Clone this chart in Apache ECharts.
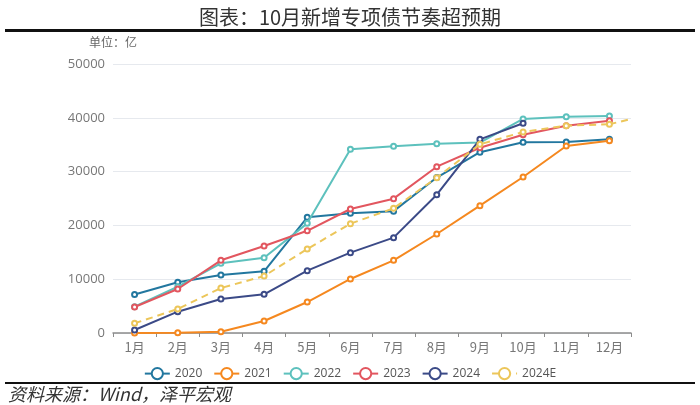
<!DOCTYPE html>
<html><head><meta charset="utf-8">
<script src="https://cdn.jsdelivr.net/npm/echarts@6/dist/echarts.min.js"></script>
<style>html,body{margin:0;padding:0;background:#fff}#c{width:700px;height:405px}</style>
</head><body><div id="c"></div>
<script>
const months = ['1月','2月','3月','4月','5月','6月','7月','8月','9月','10月','11月','12月'];
const s2020 = [7150, 9420, 10780, 11470, 21500, 22250, 22650, 28900, 33600, 35450, 35500, 36000];
const s2021 = [0, 30, 240, 2230, 5760, 10040, 13510, 18400, 23670, 29000, 34760, 35750];
const s2022 = [4900, 8600, 12950, 14000, 20380, 34140, 34700, 35190, 35400, 39780, 40210, 40330];
const s2023 = [4830, 8180, 13510, 16170, 19000, 23050, 24970, 30910, 34440, 36860, 38540, 39470];
const s2024 = [560, 3960, 6320, 7190, 11580, 14930, 17720, 25710, 36000, 38980];
const s2024E = [1800, 4460, 8360, 10590, 15610, 20320, 23170, 28870, 35070, 37360, 38540, 38790];
const s2024EExt = [[11.5, 38790], [12, 39780]];

const names = ['2020','2021','2022','2023','2024','2024E'];
const colors = ['#22779f','#f5881f','#5dc1bd','#e2565f','#3b4a87','#ecc65a'];
const datas = [s2020, s2021, s2022, s2023, s2024, s2024E];

const chart = echarts.init(document.getElementById('c'), null, {renderer:'canvas'});
const series = names.map((n,i)=>({
  name:n, type:'line', data:datas[i], xAxisIndex:0, yAxisIndex:0,
  symbol:'emptyCircle', symbolSize:5, color:colors[i],
  lineStyle:{width:2, color:colors[i], type: n==='2024E'?[7,5]:'solid'},
  itemStyle:{color:colors[i], borderWidth:1.5}, z: 2+i
}));
series.push({
  name:'ext', type:'line', data:s2024EExt, xAxisIndex:1, yAxisIndex:0,
  symbol:'none', lineStyle:{width:2, color:colors[5], type:[7,5]}, z:7
});

chart.setOption({
  animation:false,
  backgroundColor:'#fff',
  title:{text:'图表：10月新增专项债节奏超预期', left:'center', top:2,
    textStyle:{fontFamily:'"Noto Sans CJK SC", serif', fontSize:20, fontWeight:'normal', color:'#333'}},
  graphic:[
    {type:'rect', shape:{x:5,y:29,width:690,height:3}, style:{fill:'#111'}},
    {type:'rect', shape:{x:5,y:382,width:690,height:2}, style:{fill:'#111'}},
    {type:'text', left:8, top:385, style:{text:'资料来源：Wind，泽平宏观', font:'italic 18px "Noto Sans CJK SC", serif', fill:'#333'}},
    {type:'text', left:89, top:36, style:{text:'单位：亿', font:'12px "Noto Sans CJK SC", sans-serif', fill:'#666'}}
  ],
  legend:{data:names, top:362, left:'center', itemWidth:25, itemHeight:14, itemGap:11,
    textStyle:{fontFamily:'"Open Sans", sans-serif', fontSize:12, color:'#555'}},
  grid:{left:113, right:69, top:64, bottom:72},
  xAxis:[{type:'category', data:months, boundaryGap:true,
    axisLine:{lineStyle:{color:'#8c8c8c', width:1.5}},
    axisTick:{show:true, alignWithLabel:false, length:4, lineStyle:{color:'#8c8c8c'}},
    axisLabel:{color:'#777', fontSize:13, margin:8, fontFamily:'"Noto Sans CJK SC", sans-serif'}},
    {type:'value', min:0, max:12, show:false}],
  yAxis:{type:'value', min:0, max:50000, interval:10000,
    axisLine:{show:false}, axisTick:{show:false},
    axisLabel:{color:'#777', fontSize:13, margin:8, fontFamily:'"Open Sans", sans-serif', formatter:v=>String(v)},
    splitLine:{lineStyle:{color:'#e6e9ee', width:1}}},
  series:series
});
</script></body></html>
